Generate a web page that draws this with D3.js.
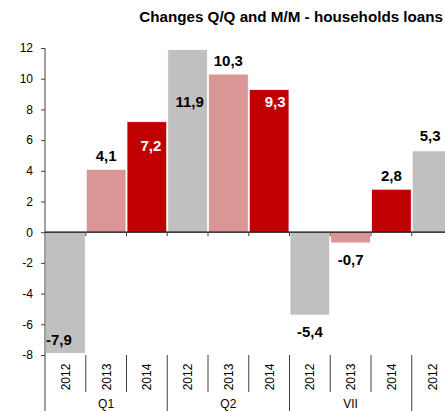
<!DOCTYPE html>
<html>
<head>
<meta charset="utf-8">
<script src="https://cdn.jsdelivr.net/npm/d3@7"></script>
<style>
  body { margin: 0; background: #fff; }
  text { font-family: "Liberation Sans", Arial, sans-serif; }
</style>
</head>
<body>
<svg id="chart" width="445" height="411"></svg>
<script>
// chart data
var years = ["2012", "2013", "2014", "2012", "2013", "2014", "2012", "2013", "2014", "2012"];
var groups = ["Q1", "Q2", "VII"];
var values = [-7.9, 4.1, 7.2, 11.9, 10.3, 9.3, -5.4, -0.7, 2.8, 5.3];
var yTicks = [-8, -6, -4, -2, 0, 2, 4, 6, 8, 10, 12];

// label placement, as in the original (manual nudges)
var labelMode = ["insideEnd", "out", "in", "in", "out", "in", "out", "out", "out", "out"];
var labelDy = [0, 0, 9, 37, 0, -2, 0, 0, 0, -2];
var labelDx = [0, 0, 4, 2, 0, 6, 0, 0, 0, -2];

var colorOf = { "2012": "#c0c0c0", "2013": "#d99694", "2014": "#c00000" };

var svg = d3.select("#chart");
var plotLeft = 45, plotTop = 48, plotBottom = 355, step = 40.75;

var x = d3.scaleBand()
	.domain(d3.range(years.length))
	.range([plotLeft, plotLeft + step * years.length])
	.paddingInner(0).paddingOuter(0);

var y = d3.scaleLinear().domain([-8, 12]).range([plotBottom, plotTop]);

function fmt(d) {
	return d.toFixed(1).replace(".", ",");
}

// title
svg.append("text")
	.attr("x", 443).attr("y", 22)
	.attr("text-anchor", "end")
	.style("font-size", "15.2px").style("font-weight", "bold")
	.text("Changes Q/Q and M/M - households loans");

// bars
svg.selectAll("rect.bar")
	.data(values)
	.enter().append("rect")
	.attr("class", "bar")
	.attr("x", function(d, i) { return x(i) + 0.5; })
	.attr("width", x.bandwidth() - 1)
	.attr("y", function(d) { return y(Math.max(0, d)); })
	.attr("height", function(d) { return Math.abs(y(d) - y(0)); })
	.attr("fill", function(d, i) { return colorOf[years[i]]; })
	.attr("stroke", "#fff").attr("stroke-width", 0.8);

// y axis
var yAxis = d3.axisLeft(y).tickValues(yTicks).tickSize(4).tickPadding(8)
	.tickFormat(function(d) { return String(d); });
var ga = svg.append("g").attr("transform", "translate(" + plotLeft + ",0)").call(yAxis);
ga.select(".domain").remove();
ga.selectAll("line").attr("stroke", "#404040");
ga.selectAll("text").style("font-size", "12px").style("font-family", "Liberation Sans, Arial").attr("fill", "#000");
svg.append("line")
	.attr("x1", plotLeft).attr("x2", plotLeft)
	.attr("y1", plotTop).attr("y2", 411)
	.attr("stroke", "#404040");

// zero line with small ticks at category edges
svg.append("line")
	.attr("x1", plotLeft).attr("x2", 445)
	.attr("y1", y(0)).attr("y2", y(0))
	.attr("stroke", "#000").attr("stroke-width", 1.2);
svg.selectAll("line.zt")
	.data(d3.range(1, years.length + 1))
	.enter().append("line")
	.attr("class", "zt")
	.attr("x1", function(i) { return plotLeft + i * step; })
	.attr("x2", function(i) { return plotLeft + i * step; })
	.attr("y1", y(0)).attr("y2", y(0) + 4)
	.attr("stroke", "#404040");

// value labels
svg.selectAll("text.val")
	.data(values)
	.enter().append("text")
	.attr("class", "val")
	.style("font-size", "15px").style("font-weight", "bold")
	.attr("text-anchor", function(d, i) { return labelMode[i] == "insideEnd" ? "start" : "middle"; })
	.attr("x", function(d, i) {
		if (labelMode[i] == "insideEnd") return x(i) + 1;
		return x(i) + x.bandwidth() / 2 + labelDx[i];
	})
	.attr("y", function(d, i) {
		var end = y(d), m = labelMode[i], yy;
		if (m == "insideEnd") yy = end - 8;
		else if (m == "in") yy = end + 20;
		else yy = d >= 0 ? end - 8 : end + 22;
		return yy + labelDy[i];
	})
	.attr("fill", function(d, i) { return labelMode[i] == "in" && years[i] == "2014" ? "#fff" : "#000"; })
	.text(fmt);

// category axis (years, rotated)
svg.selectAll("text.yr")
	.data(years)
	.enter().append("text")
	.attr("class", "yr")
	.attr("transform", function(d, i) {
		return "translate(" + (x(i) + x.bandwidth() / 2 + 4.5) + ",377) rotate(-90)";
	})
	.attr("text-anchor", "middle")
	.style("font-size", "12px")
	.text(function(d) { return d; });

svg.selectAll("line.sep")
	.data(d3.range(1, years.length + 1))
	.enter().append("line")
	.attr("class", "sep")
	.attr("x1", function(i) { return plotLeft + i * step; })
	.attr("x2", function(i) { return plotLeft + i * step; })
	.attr("y1", plotBottom)
	.attr("y2", function(i) { return i % 3 == 0 ? 411 : 392; })
	.attr("stroke", "#404040");

svg.selectAll("text.grp")
	.data(groups)
	.enter().append("text")
	.attr("class", "grp")
	.attr("x", function(d, i) { return plotLeft + (i * 3 + 1.5) * step; })
	.attr("y", 408)
	.attr("text-anchor", "middle")
	.style("font-size", "12px")
	.text(function(d) { return d; });
</script>
</body>
</html>
